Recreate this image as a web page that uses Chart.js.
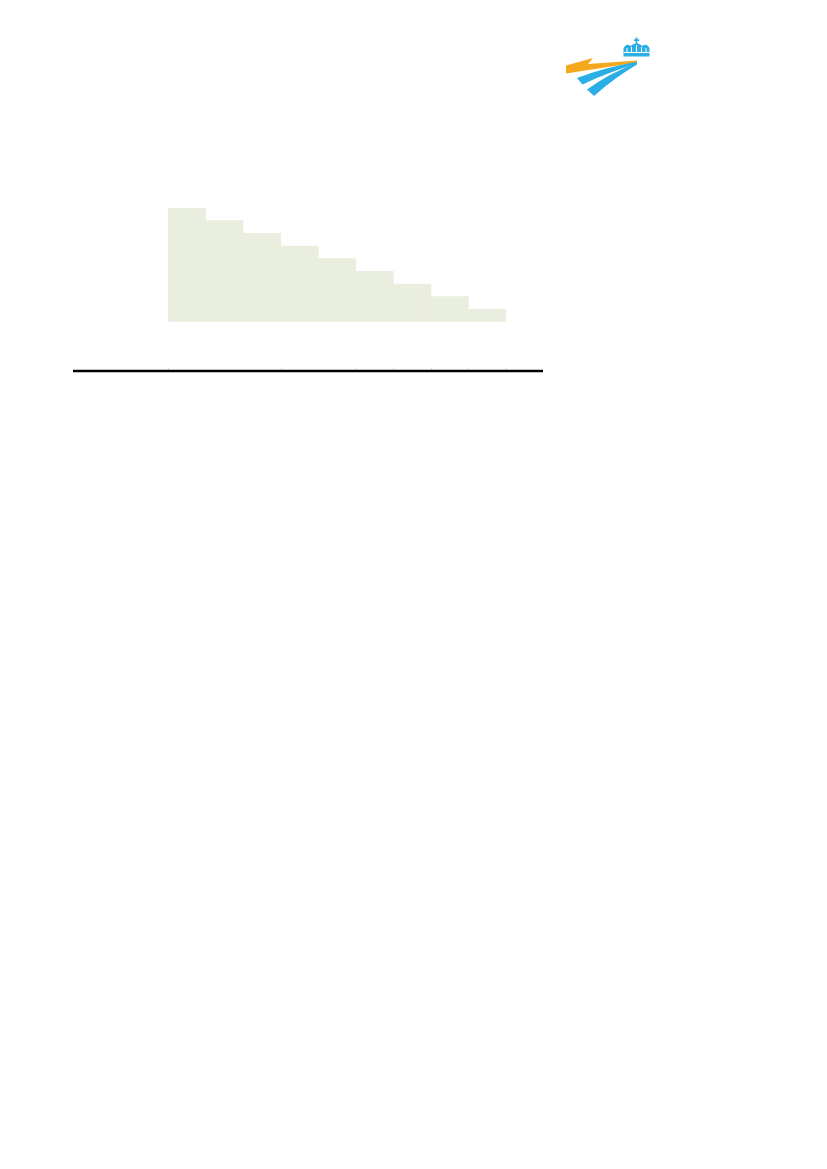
<!DOCTYPE html>
<html>
<head>
<meta charset="utf-8">
<script src="https://cdn.jsdelivr.net/npm/chart.js@4.4.1/dist/chart.umd.min.js"></script>
<style>
  html, body { margin: 0; padding: 0; background: #fff; }
  body { width: 827px; height: 1169px; position: relative; overflow: hidden; }
  #stepChart { position: absolute; left: 0; top: 0; }
  #logo { position: absolute; left: 560px; top: 35px; }
</style>
</head>
<body>
<svg id="logo" width="95" height="65" viewBox="0 0 95 65">
  <!-- crown -->
  <rect x="75.6" y="2.5" width="1.8" height="6.5" fill="#2aaee4"/>
  <rect x="73.8" y="4.3" width="5.4" height="1.7" fill="#2aaee4"/>
  <path d="M63.5,21.5 L63.5,13 Q66.5,7.5 70.5,11 Q76.5,5.5 82.5,11 Q86.5,7.5 89.5,13 L89.5,21.5 Z" fill="#2aaee4"/>
  <path d="M67,17 L67,13 M71.5,17 L71.5,12 M76.5,17 L76.5,10 M81.5,17 L81.5,12 M86,17 L86,13" stroke="#fff" stroke-width="1"/>
  <rect x="63.5" y="17" width="26" height="1" fill="#fff"/>
  <!-- orange bolt -->
  <path d="M6,30.5 L33,23 L28,29 L77,25.5 L77,27.5 L35,34 L6,38.5 Z" fill="#f4a81d"/>
  <!-- blue strokes -->
  <path d="M17,43 Q45,32.5 77,26.8 L77,28.6 Q48,37.5 22.5,49.5 Z" fill="#2aaee4"/>
  <path d="M27,54.5 Q50,38 77,27.8 L77,29.6 Q55,42.5 34,61 Z" fill="#2aaee4"/>
</svg>
<canvas id="stepChart" width="827" height="400"></canvas>
<script>
const categories = ['1', '2', '3', '4', '5', '6', '7', '8', '9']
const stepValues = [9, 8, 7, 6, 5, 4, 3, 2, 1]
const yMax = 9
// bar boundaries that carry a tick on the rule under the chart
const ruleTickBoundaries = [0, 3, 5, 6, 7, 8, 9]

const barColor = 'rgb(234, 238, 222)'
const gridColor = 'rgba(255, 255, 255, 0.5)'

const bottomRule = {
    id: 'bottomRule',
    afterDraw(chart) {
        const ctx = chart.ctx
        const xScale = chart.scales.x
        const y = 371
        ctx.save()
        ctx.strokeStyle = '#000'
        ctx.lineWidth = 2.5
        ctx.beginPath()
        ctx.moveTo(73, y)
        ctx.lineTo(543, y)
        ctx.stroke()
        // faint grey ticks where bar edges fall
        const half = (xScale.getPixelForValue(1) - xScale.getPixelForValue(0)) / 2
        ctx.strokeStyle = '#b0b0b0'
        ctx.lineWidth = 1
        ruleTickBoundaries.forEach(b => {
            const x = Math.round(xScale.getPixelForValue(b) - half) + 0.5
            ctx.beginPath()
            ctx.moveTo(x, y - 2.5)
            ctx.lineTo(x, y - 1.2)
            ctx.stroke()
        })
        ctx.restore()
    }
}

const ctx = document.getElementById('stepChart').getContext('2d')
new Chart(ctx, {
    type: 'bar',
    data: {
        labels: categories,
        datasets: [
            {
                data: stepValues,
                backgroundColor: barColor,
                borderWidth: 0,
                barPercentage: 1,
                categoryPercentage: 1,
            }
        ]
    },
    options: {
        responsive: false,
        animation: false,
        devicePixelRatio: 1,
        layout: {
            padding: { left: 168, right: 321, top: 208, bottom: 78 }
        },
        plugins: {
            legend: { display: false },
            tooltip: { enabled: false },
        },
        scales: {
            x: {
                z: 1,
                grid: { color: gridColor, lineWidth: 1, drawTicks: false, offset: true },
                border: { display: false },
                ticks: { display: false },
            },
            y: {
                z: 1,
                min: 0,
                max: yMax,
                grid: { color: gridColor, lineWidth: 1, drawTicks: false },
                border: { display: false },
                ticks: { display: false, stepSize: 1 },
            },
        },
    },
    plugins: [bottomRule],
})
</script>
</body>
</html>
